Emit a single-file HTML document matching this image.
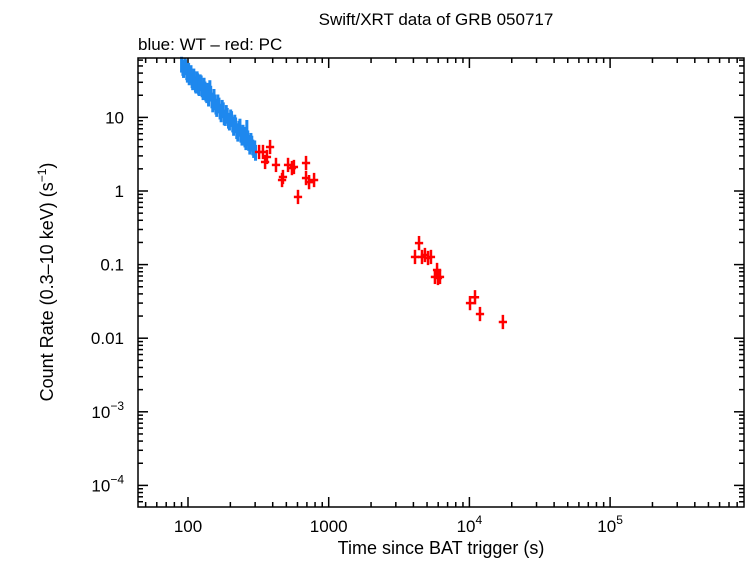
<!DOCTYPE html>
<html><head><meta charset="utf-8"><style>
body{margin:0;background:#fff;}
svg text{font-family:"Liberation Sans",sans-serif;fill:#000;}
</style></head><body>
<svg id="chart" width="746" height="558" viewBox="0 0 746 558" xmlns="http://www.w3.org/2000/svg">
<rect width="746" height="558" fill="#fff"/>
<text x="436" y="25" font-size="17" text-anchor="middle">Swift/XRT data of GRB 050717</text>
<text x="138" y="50" font-size="17">blue: WT – red: PC</text>
<text x="441" y="554" font-size="18" text-anchor="middle">Time since BAT trigger (s)</text>
<text transform="translate(53,282) rotate(-90)" font-size="18" text-anchor="middle">Count Rate (0.3–10 keV) (s<tspan dy="-7" font-size="12">−1</tspan><tspan dy="7">)</tspan></text>
<g id="axes"></g>
<g id="marks"></g>
<rect x="138" y="58" width="606" height="449" fill="none" stroke="#000" stroke-width="1.5"/>
</svg>
<script>
const wtTime=[90,92,93,95,96,98,99,101,102,104,105,107,108,110,111,113,114,116,117,119,120,122,124,126,128,130,132,134,136,138,140,143,145,148,150,153,155,158,160,163,166,169,172,175,178,181,184,187,190,194,197,201,204,208,211,215,218,222,226,230,234,238,242,246,250,254,258,262,266,270,275,280,284,289,293,298,302];
const wtRate=[52,47,44,50,48,41,38,43,35,37,40,32,30,36,33,28,27,33,31,26,25,30,29,24,22,27,24,21,20,23,18,25,21,17,15,19,16,14,13,16,14.5,12,11,13.5,12.5,10,9.8,11.5,10.5,9,8.5,10,9.5,8,7.2,8.5,7.8,6.5,6.0,7,7.5,5.8,5.3,6.2,5.8,5.0,4.6,7.2,5.2,4.5,4.0,4.8,4.4,3.9,3.6,3.8,3.3];
const pcTime=[320,341,353,364,383,422,466,473,514,548,566,605,690,690,725,787,4105,4385,4603,4831,5080,5330,5690,5890,5980,6180,10100,10960,11890,17300];
const pcRate=[3.39,3.39,2.48,2.90,3.96,2.26,1.41,1.55,2.26,2.05,2.12,0.83,2.40,1.50,1.32,1.41,0.127,0.196,0.127,0.135,0.123,0.127,0.068,0.0845,0.0658,0.068,0.030,0.036,0.0213,0.0166];
const xTickVals=[100,1000,10000,100000];
const xTickLabels=["100","1000","10^4","10^5"];
const yTickVals=[10,1,0.1,0.01,0.001,0.0001];
const yTickLabels=["10","1","0.1","0.01","10^−3","10^−4"];

const NS="http://www.w3.org/2000/svg";
const L=138,R=744,T=58,B=507;
function xs(t){return 188+140.7*(Math.log10(t)-2);}
function ys(r){return 191-73.6*Math.log10(r);}
function mk(tag,attrs,parent){const e=document.createElementNS(NS,tag);for(const k in attrs)e.setAttribute(k,attrs[k]);parent.appendChild(e);return e;}
const axes=document.getElementById('axes'),marks=document.getElementById('marks');
function lab(parent,x,y,s,anchor){
  const t=mk('text',{x:x,y:y,'font-size':17,'text-anchor':anchor},parent);
  if(s.indexOf('^')>=0){const p=s.split('^');t.textContent=p[0];const sp=mk('tspan',{dy:-8,'font-size':12},t);sp.textContent=p[1];}
  else t.textContent=s;
  return t;
}
for(let d=1;d<=6;d++){for(let m=1;m<10;m++){const v=m*Math.pow(10,d);const x=xs(v);if(x<L||x>R)continue;const len=m===1?10:5;
  const tk=mk('line',{x1:x,x2:x,y1:B,y2:B-len,stroke:'#000','stroke-width':1.5},axes);
  
  
  mk('line',{x1:x,x2:x,y1:T,y2:T+len,stroke:'#000','stroke-width':1.5},axes);}}
xTickVals.forEach((v,i)=>{const t=lab(axes,xs(v),532,xTickLabels[i],'middle');
  
  });
for(let d=-5;d<=2;d++){for(let m=1;m<10;m++){const v=m*Math.pow(10,d);const y=ys(v);if(y<T||y>B)continue;const len=m===1?10:5;
  const tk=mk('line',{x1:L,x2:L+len,y1:y,y2:y,stroke:'#000','stroke-width':1.5},axes);
  
  
  mk('line',{x1:R,x2:R-len,y1:y,y2:y,stroke:'#000','stroke-width':1.5},axes);}}
yTickVals.forEach((v,i)=>{const t=lab(axes,124,ys(v)+6,yTickLabels[i],'end');
  
  });
function cross(t,r,xe,ye,color,sw,name){
  const g=mk('g',{stroke:color,'stroke-width':sw},marks);
  
  
  mk('line',{x1:xs(t/xe),x2:xs(t*xe),y1:ys(r),y2:ys(r)},g);
  mk('line',{x1:xs(t),x2:xs(t),y1:ys(r*ye),y2:ys(r/ye)},g);
}
wtTime.forEach((t,i)=>cross(t,wtRate[i],1.012,1.28,'#1e88ee',3,'wt-point'));
pcTime.forEach((t,i)=>cross(t,pcRate[i],1.07,1.25,'#ff0000',2.5,'pc-point'));
</script>
</body></html>
